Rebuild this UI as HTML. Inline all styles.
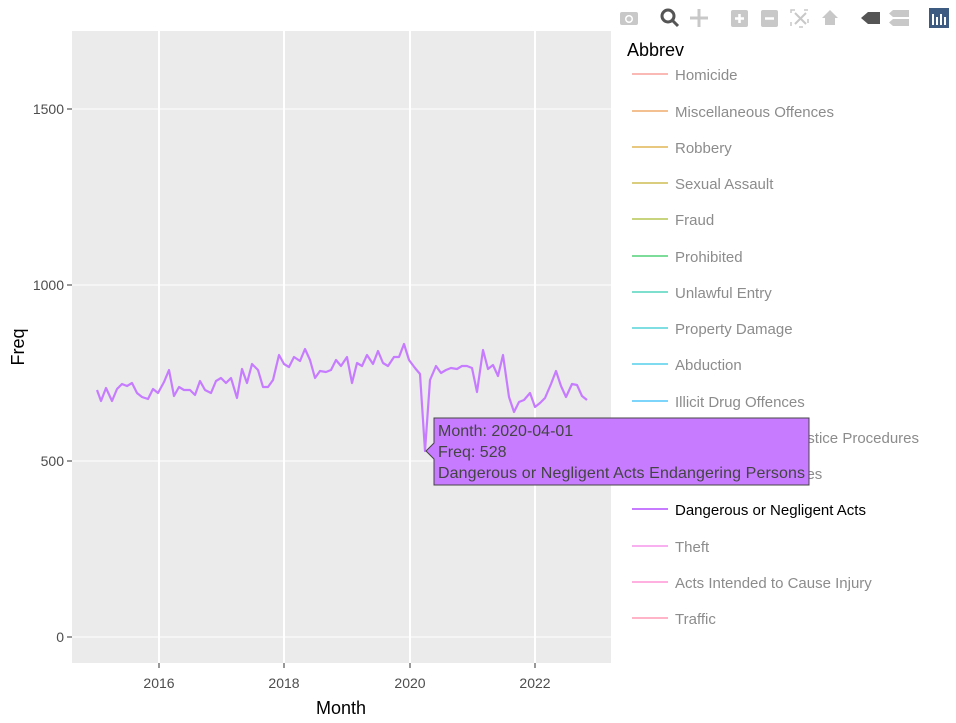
<!DOCTYPE html>
<html><head><meta charset="utf-8"><style>
body{margin:0;background:#fff;width:956px;height:718px;overflow:hidden;font-family:"Liberation Sans",sans-serif}
</style></head><body>
<svg width="956" height="718" xmlns="http://www.w3.org/2000/svg" font-family="Liberation Sans, sans-serif">
<rect x="72" y="31" width="539" height="632" fill="#ebebeb"/>
<g stroke="#fff" stroke-width="1">
<line x1="72" x2="611" y1="637" y2="637"/><line x1="72" x2="611" y1="461" y2="461"/>
<line x1="72" x2="611" y1="285" y2="285"/><line x1="72" x2="611" y1="109" y2="109"/>
</g>
<g stroke="#fff" stroke-width="2">
<line x1="159" x2="159" y1="31" y2="663"/><line x1="284" x2="284" y1="31" y2="663"/>
<line x1="410" x2="410" y1="31" y2="663"/><line x1="535" x2="535" y1="31" y2="663"/>
</g>
<g stroke="#333" stroke-width="1">
<line x1="67" x2="72" y1="637" y2="637"/><line x1="67" x2="72" y1="461" y2="461"/><line x1="67" x2="72" y1="285" y2="285"/><line x1="67" x2="72" y1="109" y2="109"/>
<line x1="159" x2="159" y1="663" y2="668"/><line x1="284" x2="284" y1="663" y2="668"/><line x1="410" x2="410" y1="663" y2="668"/><line x1="535" x2="535" y1="663" y2="668"/>
</g>
<g font-size="14" fill="#4d4d4d" text-anchor="end">
<text x="64" y="642">0</text><text x="64" y="466">500</text><text x="64" y="290">1000</text><text x="64" y="114">1500</text>
</g>
<g font-size="14" fill="#4d4d4d" text-anchor="middle">
<text x="159" y="688">2016</text><text x="284" y="688">2018</text><text x="410" y="688">2020</text><text x="535" y="688">2022</text>
</g>
<text x="341" y="714" font-size="18" text-anchor="middle">Month</text>
<text transform="translate(24,347) rotate(-90)" font-size="18" text-anchor="middle">Freq</text>
<polyline fill="none" stroke="#C77CFF" stroke-width="2.2" stroke-linejoin="round" points="97,390 101,401 106,388 112,401 117,389 122,384 127,386 132,383 137,393 142,397 148,399 153,389 158,393 164,382 169,370 174,396 179,387 184,390 190,390 195,395 200,381 205,390 211,393 216,381 221,378 226,383 231,378 237,398 242,369 247,383 252,364 258,370 263,387 268,387 273,380 279,355 284,364 289,367 294,357 300,361 305,349 310,360 315,378 320,371 326,372 331,370 336,360 341,366 347,357 352,383 357,363 362,366 367,355 373,364 378,351 383,363 388,366 394,357 399,357 404,344 409,360 415,368 420,374 425,451 430,380 436,366 441,373 446,370 451,368 457,369 462,366 467,366 472,368 477,392 483,350 488,369 493,365 498,376 503,355 509,397 514,412 519,402 524,400 530,393 535,407 540,403 545,398 551,384 556,371 561,386 566,397 572,384 577,385 582,396 587,400"/>
<text x="627" y="56" font-size="18">Abbrev</text>
<g font-size="15" fill="#8c8c8c" stroke-width="2">
<line x1="632" x2="668" y1="74" y2="74" stroke="#F8766D" opacity=".5"/><text x="675" y="80">Homicide</text>
<line x1="632" x2="668" y1="111" y2="111" stroke="#E88526" opacity=".5"/><text x="675" y="117">Miscellaneous Offences</text>
<line x1="632" x2="668" y1="147" y2="147" stroke="#D39200" opacity=".5"/><text x="675" y="153">Robbery</text>
<line x1="632" x2="668" y1="183" y2="183" stroke="#B79F00" opacity=".5"/><text x="675" y="189">Sexual Assault</text>
<line x1="632" x2="668" y1="219" y2="219" stroke="#93AA00" opacity=".5"/><text x="675" y="225">Fraud</text>
<line x1="632" x2="668" y1="256" y2="256" stroke="#00BA38" opacity=".5"/><text x="675" y="262">Prohibited</text>
<line x1="632" x2="668" y1="292" y2="292" stroke="#00C19F" opacity=".5"/><text x="675" y="298">Unlawful Entry</text>
<line x1="632" x2="668" y1="328" y2="328" stroke="#00BFC4" opacity=".5"/><text x="675" y="334">Property Damage</text>
<line x1="632" x2="668" y1="364" y2="364" stroke="#00B9E3" opacity=".5"/><text x="675" y="370">Abduction</text>
<line x1="632" x2="668" y1="401" y2="401" stroke="#00ADFA" opacity=".5"/><text x="675" y="407">Illicit Drug Offences</text>
<line x1="632" x2="668" y1="437" y2="437" stroke="#619CFF" opacity=".5"/><text x="675" y="443">Offences against Justice Procedures</text>
<line x1="632" x2="668" y1="473" y2="473" stroke="#DB72FB" opacity=".5"/><text x="675" y="479">Public Order Offences</text>
<line x1="632" x2="668" y1="509" y2="509" stroke="#C77CFF"/><text x="675" y="515" fill="#000">Dangerous or Negligent Acts</text>
<line x1="632" x2="668" y1="546" y2="546" stroke="#F564E3" opacity=".5"/><text x="675" y="552">Theft</text>
<line x1="632" x2="668" y1="582" y2="582" stroke="#FF61C3" opacity=".5"/><text x="675" y="588">Acts Intended to Cause Injury</text>
<line x1="632" x2="668" y1="618" y2="618" stroke="#FF6C91" opacity=".5"/><text x="675" y="624">Traffic</text>
</g>
<path d="M426,451 L434,443 L434,418 L809,418 L809,485 L434,485 L434,459 Z" fill="#C77CFF" stroke="#444" stroke-width="1"/>
<g font-size="16" fill="#444">
<text x="438" y="436">Month: 2020-04-01</text>
<text x="438" y="457">Freq:  528</text>
<text x="438" y="478" textLength="367">Dangerous or Negligent Acts Endangering Persons</text>
</g>
<g fill="#c8c8c8">
<rect x="620" y="12" width="18" height="13" rx="2"/><circle cx="629" cy="19" r="4" fill="#fff"/><circle cx="629" cy="19" r="2.5"/>
<circle cx="668" cy="16" r="6" fill="none" stroke="#555" stroke-width="3"/><line x1="672" y1="20" x2="678" y2="26" stroke="#555" stroke-width="3"/>
<path d="M699,9 v18 M690,18 h18" stroke="#c8c8c8" stroke-width="3"/>
<rect x="731" y="10" width="17" height="17" rx="2"/><path d="M735,18.5h9M739.5,14v9" stroke="#fff" stroke-width="2.5"/>
<rect x="761" y="10" width="17" height="17" rx="2"/><path d="M765,18.5h9" stroke="#fff" stroke-width="2.5"/>
<rect x="791" y="10" width="17" height="17" fill="none" stroke="#c8c8c8" stroke-width="1.5" stroke-dasharray="4 9"/><path d="M795,13l11,11M806,13l-11,11" stroke="#c8c8c8" stroke-width="2"/>
<path d="M822,18 l8,-8 l8,8 h-3 v7 h-10 v-7 z"/>
<path d="M868,12 h12 v12 h-12 l-7,-6 z" fill="#555"/>
<path d="M893,10 h16 v7 h-16 l-4,-3.5 z M893,19 h16 v7 h-16 l-4,-3.5 z"/>
<rect x="929" y="8" width="20" height="20" fill="#3d5a80"/>
<path d="M933,14v11M937,17v8M941,14v11M945,17v8" stroke="#fff" stroke-width="2"/>
</g>
</svg>
</body></html>
